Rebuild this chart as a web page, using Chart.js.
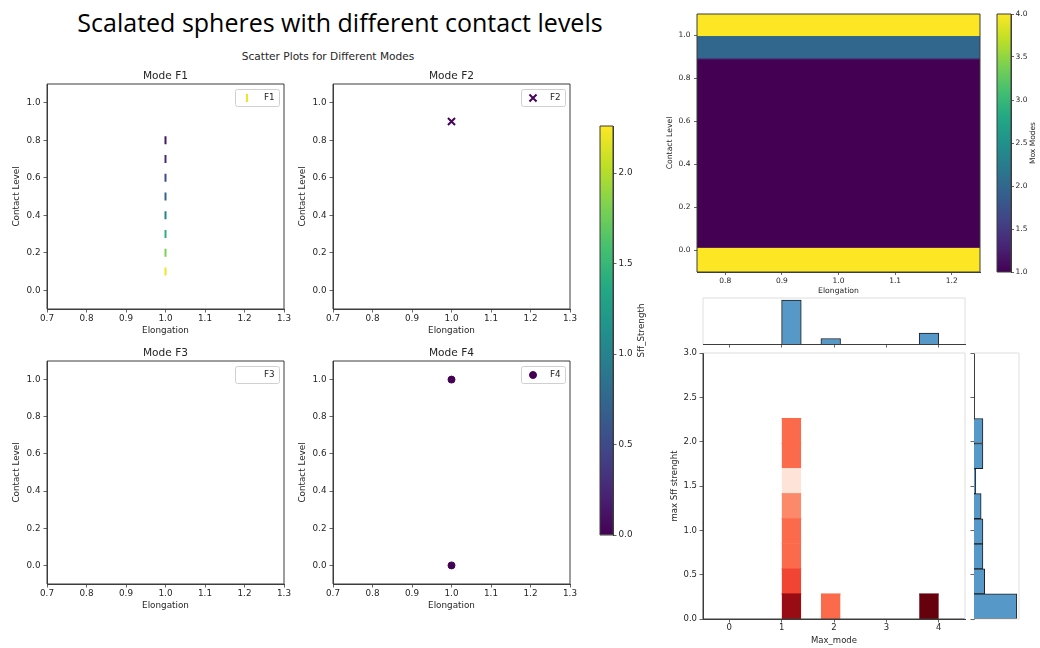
<!DOCTYPE html>
<html lang="en">
<head>
<meta charset="utf-8">
<title>Scalated spheres with different contact levels</title>
<script src="https://cdn.jsdelivr.net/npm/chart.js@4.4.1/dist/chart.umd.min.js"></script>
<style>
  html, body { margin: 0; padding: 0; background: #ffffff; }
  #stage { position: relative; width: 1040px; height: 648px; overflow: hidden; background: #ffffff; }
  #stage canvas { position: absolute; left: 0; top: 0; }
  .caption { position: absolute; white-space: nowrap; transform: translate(-50%, -50%); }
  #headline { left: 340px; top: 22px; font: 400 25px "Open Sans", sans-serif; color: #000; }
  #suptitle { left: 328px; top: 56px; font: 10.6px "DejaVu Sans", sans-serif; color: #262626; }
</style>
</head>
<body>
<div id="stage">
  <div id="headline" class="caption">Scalated spheres with different contact levels</div>
  <div id="suptitle" class="caption">Scatter Plots for Different Modes</div>
</div>
<script>
// ---------- Mode scatter samples: elongation, contact level, Sff strength ----------
const elongationRange = [0.7, 1.3];
const elongationTicks = [0.7, 0.8, 0.9, 1.0, 1.1, 1.2, 1.3];
const contactRange = [-0.1, 1.1];
const contactTicks = [0.0, 0.2, 0.4, 0.6, 0.8, 1.0];

const f1Elongation = [1.0, 1.0, 1.0, 1.0, 1.0, 1.0, 1.0, 1.0];
const f1Contact    = [0.1, 0.2, 0.3, 0.4, 0.5, 0.6, 0.7, 0.8];
const f1Strength   = [2.21, 1.81, 1.42, 1.02, 0.72, 0.50, 0.27, 0.14];

const f2Elongation = [1.0];
const f2Contact    = [0.9];
const f2Strength   = [0.02];

const f3Elongation = [];
const f3Contact    = [];
const f3Strength   = [];

const f4Elongation = [1.0, 1.0];
const f4Contact    = [1.0, 0.0];
const f4Strength   = [0.0, 0.0];

const strengthRange = [0.0, 2.26];
const strengthTicks = [0.0, 0.5, 1.0, 1.5, 2.0];

// ---------- Max-mode map over elongation / contact level ----------
const mapElongationRange = [0.75, 1.25];
const mapElongationTicks = [0.8, 0.9, 1.0, 1.1, 1.2];
const mapContactEdges = [-0.1, 0.01, 0.89, 0.995, 1.1];
const mapMaxMode = [4, 1, 2, 4];
const maxModeRange = [1.0, 4.0];
const maxModeTicks = [1.0, 1.5, 2.0, 2.5, 3.0, 3.5, 4.0];

// ---------- Joint histogram: max mode vs max Sff strength ----------
const maxModeEdges  = [1.0, 1.375, 1.75, 2.125, 2.5, 2.875, 3.25, 3.625, 4.0];
const strengthEdges = [0.0, 0.2827, 0.5654, 0.8481, 1.1308, 1.4135, 1.6962, 1.9789, 2.2616];
// rows: max-mode bins, columns: strength bins
const jointCounts = [
  [9, 6, 5, 5, 4, 1, 5, 5],
  [0, 0, 0, 0, 0, 0, 0, 0],
  [5, 0, 0, 0, 0, 0, 0, 0],
  [0, 0, 0, 0, 0, 0, 0, 0],
  [0, 0, 0, 0, 0, 0, 0, 0],
  [0, 0, 0, 0, 0, 0, 0, 0],
  [0, 0, 0, 0, 0, 0, 0, 0],
  [10, 0, 0, 0, 0, 0, 0, 0]
];
const jointModeRange = [-0.5, 4.5];
const jointModeTicks = [0, 1, 2, 3, 4];
const jointStrengthRange = [0.0, 3.0];
const jointStrengthTicks = [0.0, 0.5, 1.0, 1.5, 2.0, 2.5, 3.0];

// ---------- colour maps ----------
const VIRIDIS = ['#440154', '#482475', '#414487', '#355f8d', '#2a788e', '#21918c',
                 '#22a884', '#44bf70', '#7ad151', '#bddf26', '#fde725'];
const REDS = ['#fff5f0', '#fee0d2', '#fcbba1', '#fc9272', '#fb6a4a', '#ef3b2c',
              '#cb181d', '#a50f15', '#67000d'];
function hexToRgb(h) { return [1, 3, 5].map(i => parseInt(h.slice(i, i + 2), 16)); }
function sampleMap(stops, t) {
  t = Math.min(1, Math.max(0, t));
  const p = t * (stops.length - 1);
  const i = Math.min(stops.length - 2, Math.floor(p));
  const f = p - i;
  const a = hexToRgb(stops[i]), b = hexToRgb(stops[i + 1]);
  return 'rgb(' + a.map((v, k) => Math.round(v + (b[k] - v) * f)).join(',') + ')';
}
const viridis = t => sampleMap(VIRIDIS, t);
const reds = t => sampleMap(REDS, t);
const normStrength = s => (s - strengthRange[0]) / (strengthRange[1] - strengthRange[0]);
const normMode = m => (m - maxModeRange[0]) / (maxModeRange[1] - maxModeRange[0]);

// ---------- shared styling ----------
const W = 1040, H = 648;
const MPL = '"DejaVu Sans", "Liberation Sans", sans-serif';
const INK = '#262626';
const SPINE = '#3d3d3d';
const FAINT = '#dedede';
const fmt1 = v => Number(v).toFixed(1);
const fmt0 = v => Number(v).toFixed(0);

// outline of the plotting box, side by side
const framePlugin = {
  id: 'frame',
  afterDatasetsDraw(chart, args, opts) {
    if (!opts || !opts.sides) return;
    const { left, right, top, bottom } = chart.chartArea;
    const ctx = chart.ctx;
    const s = opts.sides;
    ctx.save();
    ctx.lineWidth = 1;
    const seg = (c, x1, y1, x2, y2) => {
      if (!c) return;
      ctx.strokeStyle = c;
      ctx.beginPath(); ctx.moveTo(x1, y1); ctx.lineTo(x2, y2); ctx.stroke();
    };
    seg(s.top, left, top, right, top);
    seg(s.bottom, left, bottom, right, bottom);
    seg(s.left, left, top, left, bottom);
    seg(s.right, right, top, right, bottom);
    ctx.restore();
  }
};

// panel titles and colour-bar labels
const captionPlugin = {
  id: 'captions',
  afterDraw(chart, args, opts) {
    const items = (opts && opts.items) || [];
    const ca = chart.chartArea, ctx = chart.ctx;
    for (const it of items) {
      ctx.save();
      ctx.fillStyle = INK;
      ctx.font = it.size + 'px ' + MPL;
      ctx.textAlign = 'center';
      ctx.textBaseline = 'middle';
      if (it.side === 'top') {
        ctx.fillText(it.text, (ca.left + ca.right) / 2, ca.top - it.offset);
      } else {
        ctx.translate(ca.right + it.offset, (ca.top + ca.bottom) / 2);
        ctx.rotate(-Math.PI / 2);
        ctx.fillText(it.text, 0, 0);
      }
      ctx.restore();
    }
  }
};

function drawMarker(ctx, m, x, y, color) {
  ctx.save();
  ctx.strokeStyle = color; ctx.fillStyle = color; ctx.lineWidth = m.width;
  ctx.beginPath();
  if (m.style === 'line') {
    ctx.moveTo(x, y - m.radius); ctx.lineTo(x, y + m.radius); ctx.stroke();
  } else if (m.style === 'crossRot') {
    const d = m.radius * Math.SQRT1_2;
    ctx.moveTo(x - d, y - d); ctx.lineTo(x + d, y + d);
    ctx.moveTo(x + d, y - d); ctx.lineTo(x - d, y + d); ctx.stroke();
  } else {
    ctx.arc(x, y, m.radius, 0, Math.PI * 2); ctx.fill(); ctx.stroke();
  }
  ctx.restore();
}

// boxed legend in the upper right corner of a mode panel
const boxLegendPlugin = {
  id: 'boxLegend',
  afterDraw(chart, args, opts) {
    if (!opts || !opts.show) return;
    const ds = chart.data.datasets[0];
    const ca = chart.chartArea, ctx = chart.ctx;
    const w = 44, h = 17;
    const x = ca.right - 5 - w, y = ca.top + 5;
    ctx.save();
    ctx.fillStyle = 'rgba(255,255,255,0.85)';
    ctx.strokeStyle = '#d0d0d0';
    ctx.lineWidth = 1;
    ctx.beginPath();
    if (ctx.roundRect) ctx.roundRect(x + 0.5, y + 0.5, w, h, 2); else ctx.rect(x + 0.5, y + 0.5, w, h);
    ctx.fill(); ctx.stroke();
    if (ds.data.length) {
      const col = Array.isArray(ds.pointBorderColor) ? ds.pointBorderColor[0] : ds.pointBorderColor;
      drawMarker(ctx, { style: ds.pointStyle, radius: ds.pointRadius, width: ds.pointBorderWidth }, x + 12, y + h / 2 + 0.5, col);
    }
    ctx.fillStyle = INK;
    ctx.font = '8.8px ' + MPL;
    ctx.textAlign = 'left';
    ctx.textBaseline = 'middle';
    ctx.fillText(ds.label, x + 29, y + h / 2 + 0.5);
    ctx.restore();
  }
};

Chart.register(framePlugin, captionPlugin, boxLegendPlugin);

function linearAxis(o) {
  const horiz = o.pos === 'bottom' || o.pos === 'top';
  return {
    type: 'linear', position: o.pos, min: o.range[0], max: o.range[1],
    display: o.display !== false, offset: false,
    afterBuildTicks: s => { s.ticks = (o.ticks || []).map(v => ({ value: v })); },
    afterFit: s => { if (horiz) s.height = o.thick; else s.width = o.thick; },
    ticks: {
      display: !!o.fmt, padding: o.pad, color: INK, font: { family: MPL, size: o.size },
      autoSkip: false, maxRotation: 0, minRotation: 0,
      callback: v => (o.fmt ? o.fmt(v) : '')
    },
    grid: { display: true, offset: false, drawOnChartArea: false, drawTicks: true,
            tickLength: o.tick, tickColor: SPINE, tickWidth: 0.8 },
    border: { display: true, color: o.border || SPINE, width: 1 },
    title: o.title
      ? { display: true, text: o.title, color: INK, font: { family: MPL, size: o.titleSize || o.size }, padding: o.tpad }
      : { display: false }
  };
}

const stage = document.getElementById('stage');
function panel(area, config) {
  const cv = document.createElement('canvas');
  cv.width = W; cv.height = H;
  cv.style.width = W + 'px'; cv.style.height = H + 'px';
  stage.appendChild(cv);
  const o = config.options || (config.options = {});
  o.responsive = false;
  o.animation = false;
  o.devicePixelRatio = 1;
  o.events = [];
  o.layout = { padding: {
    left: area.l - (area.padL || 0),
    top: area.t,
    right: W - area.r - (area.padR || 0),
    bottom: H - area.b - (area.padB || 0)
  } };
  o.plugins = Object.assign({ legend: { display: false }, tooltip: { enabled: false } }, o.plugins || {});
  return new Chart(cv, config);
}

const allSides = { top: SPINE, right: SPINE, bottom: SPINE, left: SPINE };

// ---------- mode scatter panels ----------
function modePanel(name, xs, ys, ss, marker, area) {
  const cols = ss.map(s => viridis(normStrength(s)));
  return panel(Object.assign({ padL: 40, padB: 28 }, area), {
    type: 'scatter',
    data: { datasets: [{
      label: name,
      data: xs.map((x, i) => ({ x: x, y: ys[i] })),
      pointStyle: marker.style, pointRotation: marker.rotation || 0,
      pointRadius: marker.radius, pointHoverRadius: marker.radius,
      pointBorderWidth: marker.width,
      pointBackgroundColor: cols, pointBorderColor: cols
    }] },
    options: {
      scales: {
        x: linearAxis({ pos: 'bottom', range: elongationRange, ticks: elongationTicks, fmt: fmt1,
                        size: 8.8, tick: 3.5, pad: 1, thick: 28, title: 'Elongation', tpad: 0.7 }),
        y: linearAxis({ pos: 'left', range: contactRange, ticks: contactTicks, fmt: fmt1,
                        size: 8.8, tick: 3.5, pad: 3, thick: 40, title: 'Contact Level', tpad: 4.2 })
      },
      plugins: {
        frame: { sides: allSides },
        captions: { items: [{ text: 'Mode ' + name, side: 'top', offset: 8, size: 10.6 }] },
        boxLegend: { show: true }
      }
    }
  });
}

modePanel('F1', f1Elongation, f1Contact, f1Strength, { style: 'line', rotation: 90, radius: 4, width: 2 },
          { l: 47, t: 84, r: 284, b: 309 });
modePanel('F2', f2Elongation, f2Contact, f2Strength, { style: 'crossRot', radius: 5, width: 2 },
          { l: 333, t: 84, r: 570, b: 309 });
modePanel('F3', f3Elongation, f3Contact, f3Strength, { style: 'circle', radius: 3.5, width: 1 },
          { l: 47, t: 361, r: 284, b: 584 });
modePanel('F4', f4Elongation, f4Contact, f4Strength, { style: 'circle', radius: 3.5, width: 1 },
          { l: 333, t: 361, r: 570, b: 584 });

// ---------- colour bars ----------
function colorBar(range, ticks, label, area, fontSize, tick, pad, labelOffset) {
  return panel(Object.assign({ padR: 20 }, area), {
    type: 'bar',
    data: { labels: [''], datasets: [{
      data: [[range[0], range[1]]],
      barPercentage: 1, categoryPercentage: 1, borderWidth: 0,
      backgroundColor: ctx => {
        const chart = ctx.chart;
        if (!chart.chartArea) return VIRIDIS[0];
        const ys = chart.scales.y;
        const g = chart.ctx.createLinearGradient(0, ys.getPixelForValue(range[0]), 0, ys.getPixelForValue(range[1]));
        VIRIDIS.forEach((c, i) => g.addColorStop(i / (VIRIDIS.length - 1), c));
        return g;
      }
    }] },
    options: {
      scales: {
        x: { display: false },
        y: linearAxis({ pos: 'right', range: range, ticks: ticks, fmt: fmt1,
                        size: fontSize, tick: tick, pad: pad, thick: 20 })
      },
      plugins: {
        frame: { sides: allSides },
        captions: { items: [{ text: label, side: 'right', offset: labelOffset, size: fontSize }] }
      }
    }
  });
}

colorBar(strengthRange, strengthTicks, 'Sff_Strength', { l: 600, t: 126, r: 613, b: 535 }, 8.8, 3.5, 2, 29);

// cell / band filled between two contact or strength edges
function bandDataset(x0, x1, yLow, yHigh, color) {
  return {
    data: [{ x: x0, y: yHigh }, { x: x1, y: yHigh }],
    fill: { value: yLow },
    backgroundColor: color,
    borderColor: color, borderWidth: 1,
    pointRadius: 0, tension: 0
  };
}

// ---------- max-mode map ----------
panel({ l: 697, t: 14, r: 980, b: 272, padL: 33, padB: 24 }, {
  type: 'line',
  data: { datasets: mapMaxMode.map((m, i) =>
    bandDataset(mapElongationRange[0], mapElongationRange[1], mapContactEdges[i], mapContactEdges[i + 1],
                viridis(normMode(m)))) },
  options: {
    scales: {
      x: linearAxis({ pos: 'bottom', range: mapElongationRange, ticks: mapElongationTicks, fmt: fmt1,
                      size: 7.5, titleSize: 7.7, tick: 3, pad: 1.3, thick: 24, title: 'Elongation', tpad: 0.5 }),
      y: linearAxis({ pos: 'left', range: contactRange, ticks: contactTicks, fmt: fmt1,
                      size: 7.5, titleSize: 7.7, tick: 3, pad: 3.5, thick: 33, title: 'Contact Level', tpad: 1.5 })
    },
    plugins: { frame: { sides: allSides } }
  }
});

colorBar(maxModeRange, maxModeTicks, 'Mox Modes', { l: 997, t: 14, r: 1011, b: 272 }, 7.5, 3, 1.5, 22);

// ---------- joint histogram ----------
const jointMax = Math.max(...jointCounts.map(r => Math.max(...r)));
const jointCells = [];
jointCounts.forEach((row, mi) => row.forEach((c, si) => { if (c > 0) jointCells.push({ mi, si, c }); }));

panel({ l: 703, t: 353, r: 965, b: 619, padL: 35, padB: 27 }, {
  type: 'line',
  data: { datasets: jointCells.map(cell =>
    bandDataset(maxModeEdges[cell.mi], maxModeEdges[cell.mi + 1], strengthEdges[cell.si], strengthEdges[cell.si + 1],
                reds(cell.c / jointMax))) },
  options: {
    scales: {
      x: linearAxis({ pos: 'bottom', range: jointModeRange, ticks: jointModeTicks, fmt: fmt0,
                      size: 8.5, tick: 3.5, pad: 0.5, thick: 27, title: 'Max_mode', tpad: 0.2 }),
      y: linearAxis({ pos: 'left', range: jointStrengthRange, ticks: jointStrengthTicks, fmt: fmt1,
                      size: 8.5, tick: 3.5, pad: 2.5, thick: 35, title: 'max Sff strenght', tpad: 1.9 })
    },
    plugins: { frame: { sides: { top: FAINT, right: FAINT, bottom: SPINE, left: SPINE } } }
  }
});

// marginal counts
const modeCenters = maxModeEdges.slice(0, -1).map((e, i) => (e + maxModeEdges[i + 1]) / 2);
const modeTotals = jointCounts.map(r => r.reduce((a, b) => a + b, 0));
const strengthCenters = strengthEdges.slice(0, -1).map((e, i) => (e + strengthEdges[i + 1]) / 2);
const strengthTotals = strengthCenters.map((_, si) => jointCounts.reduce((a, r) => a + r[si], 0));
const HIST_FILL = 'rgb(86,152,199)';
const HIST_EDGE = '#1e1e1e';

panel({ l: 703, t: 298, r: 965, b: 344, padB: 4 }, {
  type: 'bar',
  data: { datasets: [{
    data: modeCenters.map((c, i) => ({ x: c, y: modeTotals[i] })),
    backgroundColor: HIST_FILL, borderColor: HIST_EDGE, borderWidth: 1,
    barPercentage: 1, categoryPercentage: 1
  }] },
  options: {
    scales: {
      x: linearAxis({ pos: 'bottom', range: jointModeRange, ticks: jointModeTicks,
                      size: 8.5, tick: 3.5, pad: 0, thick: 4 }),
      y: { type: 'linear', display: false, min: 0, max: Math.max(...modeTotals) * 1.05 }
    },
    plugins: { frame: { sides: { top: FAINT, left: FAINT, right: FAINT } } }
  }
});

panel({ l: 974, t: 353, r: 1019, b: 619, padL: 4 }, {
  type: 'bar',
  data: { datasets: [{
    data: strengthCenters.map((c, i) => ({ x: strengthTotals[i], y: c })),
    backgroundColor: HIST_FILL, borderColor: HIST_EDGE, borderWidth: 1,
    barPercentage: 1, categoryPercentage: 1
  }] },
  options: {
    indexAxis: 'y',
    scales: {
      y: linearAxis({ pos: 'left', range: jointStrengthRange, ticks: jointStrengthTicks,
                      size: 8.5, tick: 3.5, pad: 0, thick: 4 }),
      x: { type: 'linear', display: false, min: 0, max: Math.max(...strengthTotals) * 1.05 }
    },
    plugins: { frame: { sides: { top: FAINT, right: FAINT, bottom: FAINT } } }
  }
});
</script>
</body>
</html>
